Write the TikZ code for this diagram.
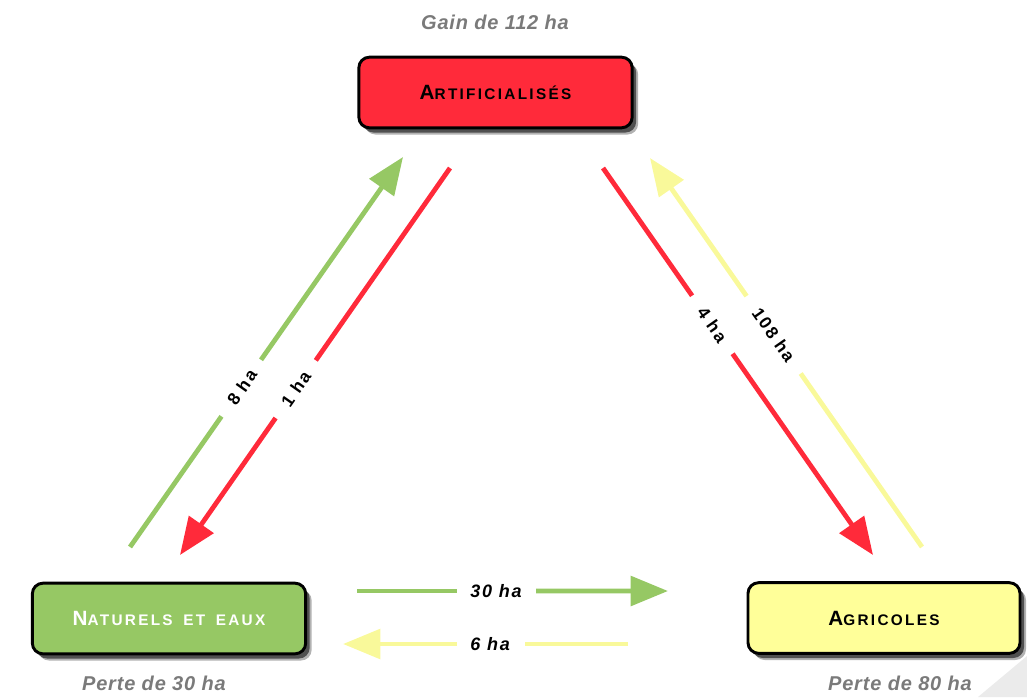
\documentclass[tikz,border=0pt]{standalone}
\usepackage{fontspec}
\setmainfont{Liberation Sans}
\newfontfamily\capfont{Liberation Sans}[LetterSpace=15]
\newfontfamily\lblfont{Liberation Sans}[LetterSpace=10]
\newfontfamily\notefont{Liberation Sans}[LetterSpace=4]
\usetikzlibrary{arrows.meta,shadows,calc}
\definecolor{cred}{HTML}{FF2A3A}
\definecolor{cgreen}{HTML}{96C864}
\definecolor{cyellow}{HTML}{FFFF99}
\definecolor{cyarrow}{HTML}{F9F99A}
\definecolor{cgrey}{HTML}{7A7A7A}
\newcommand{\fakesc}[2]{{\capfont\bfseries\fontsize{15.5}{17}\selectfont #1\fontsize{11.5}{13}\selectfont #2}}
\newcommand{\wsp}{\hspace{3pt} }
\tikzset{
  box/.style={draw=black, line width=2.2pt, rounded corners=8pt,
    minimum width=205pt, minimum height=53pt, inner sep=0pt,
    drop shadow={shadow xshift=3pt, shadow yshift=-3.5pt, fill=black, opacity=0.55},
    drop shadow={shadow xshift=4.5pt, shadow yshift=-5pt, fill=black, opacity=0.3}},
  seg/.style={line width=3.6pt},
  arr/.style={seg, -{Triangle[length=28pt,width=22pt]}},
  dlab/.style={sloped, inner sep=1pt, text=black,
    font=\lblfont\bfseries\fontsize{13}{15}\selectfont},
  hlab/.style={inner sep=1pt, text=black,
    font=\lblfont\bfseries\itshape\fontsize{13.5}{15}\selectfont},
  note/.style={text=cgrey, font=\notefont\bfseries\itshape\fontsize{15}{17}\selectfont}
}
\begin{document}
\begin{tikzpicture}[x=0.75pt, y=-0.75pt]
\useasboundingbox (0,0) rectangle (1027,697);
\fill[black!8] (978,697) -- (1027,656) -- (1027,697) -- cycle;

% boxes
\node[box, fill=cred] (art) at (495.5,92.5) {\fakesc{A}{RTIFICIALIS\'ES}};
\node[box, fill=cgreen, text=white] (nat) at (169,618.5) {\fakesc{N}{ATURELS\wsp ET\wsp EAUX}};
\node[box, fill=cyellow, minimum width=204pt] (agr) at (884,618) {\fakesc{A}{GRICOLES}};

% notes
\node[note] (gain) at (495,22) {Gain de 112 ha};
\node[note] (pnat) at (154,683) {Perte de 30 ha};
\node[note] (pagr) at (900,683) {Perte de 80 ha};

% arrow end points
\coordinate (gA) at (130,547);  \coordinate (gB) at (403,157);
\coordinate (rA) at (450,168);  \coordinate (rB) at (180,555);
\coordinate (r2A) at (603,168); \coordinate (r2B) at (873,555);
\coordinate (yA) at (922,547);  \coordinate (yB) at (650,158);
\coordinate (hgA) at (357,591); \coordinate (hgB) at (668,591);
\coordinate (hyA) at (628,644); \coordinate (hyB) at (343,644);

% Naturels -> Artificialises (8 ha)
\draw[seg, cgreen] (gA) -- ($(gA)!0.335!(gB)$);
\draw[arr, cgreen] ($(gA)!0.48!(gB)$) -- (gB);
\path (gA) -- node[dlab, pos=0.41] (l8) {8 ha} (gB);
% Artificialises -> Naturels (1 ha)
\draw[seg, cred] (rA) -- ($(rA)!0.497!(rB)$);
\draw[arr, cred] ($(rA)!0.646!(rB)$) -- (rB);
\path (rA) -- node[dlab, pos=0.571] (l1) {1 ha} (rB);
% Artificialises -> Agricoles (4 ha)
\draw[seg, cred] (r2A) -- ($(r2A)!0.33!(r2B)$);
\draw[arr, cred] ($(r2A)!0.48!(r2B)$) -- (r2B);
\path (r2A) -- node[dlab, pos=0.405] (l4) {4 ha} (r2B);
% Agricoles -> Artificialises (108 ha)
\draw[seg, cyarrow] (yA) -- ($(yA)!0.446!(yB)$);
\draw[arr, cyarrow] ($(yA)!0.645!(yB)$) -- (yB);
\path (yA) -- node[dlab, pos=0.545] (l108) {108 ha} (yB);
% Naturels -> Agricoles (30 ha)
\draw[seg, cgreen] (hgA) -- ($(hgA)!0.32!(hgB)$);
\draw[arr, cgreen] ($(hgA)!0.576!(hgB)$) -- (hgB);
\path (hgA) -- node[hlab, pos=0.447] (l30) {30 ha} (hgB);
% Agricoles -> Naturels (6 ha)
\draw[seg, cyarrow] (hyA) -- ($(hyA)!0.36!(hyB)$);
\draw[arr, cyarrow] ($(hyA)!0.60!(hyB)$) -- (hyB);
\path (hyA) -- node[hlab, pos=0.484] (l6) {6 ha} (hyB);
\end{tikzpicture}
\end{document}
